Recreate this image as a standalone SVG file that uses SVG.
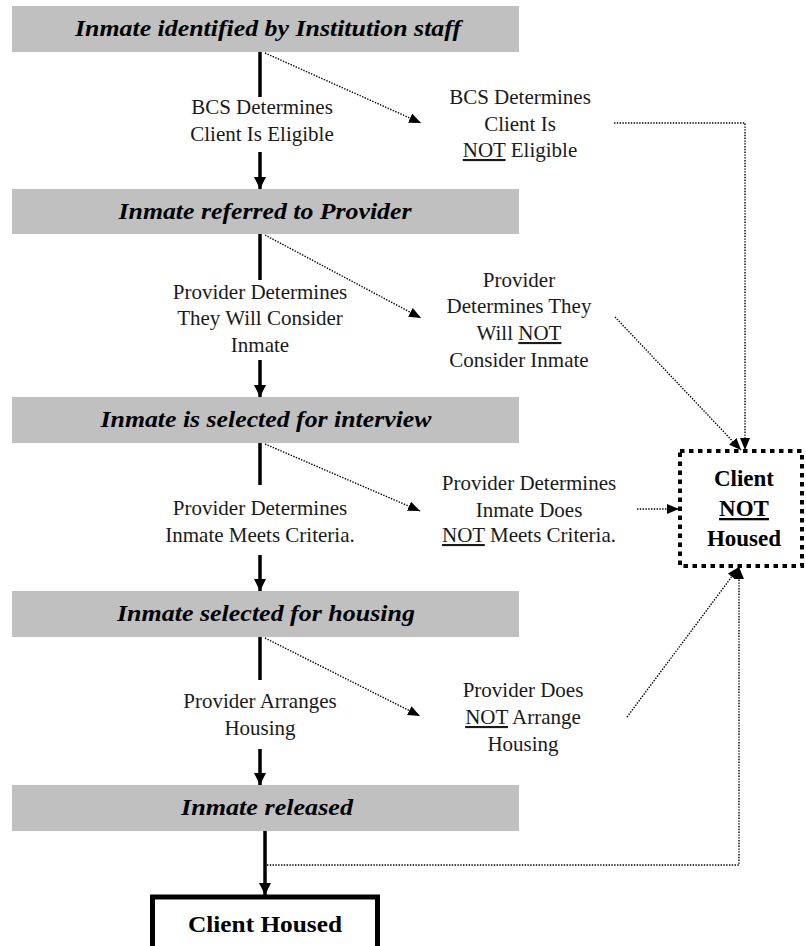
<svg xmlns="http://www.w3.org/2000/svg" width="806" height="946" viewBox="0 0 806 946">
<style>
.bar{fill:#c0c0c0}
.bt{font-family:"Liberation Serif",serif;font-weight:bold;font-style:italic;font-size:24px;fill:#000;text-anchor:middle}
.lb{font-family:"Liberation Serif",serif;font-size:21px;fill:#1a1a1a;text-anchor:middle}
.bx{font-family:"Liberation Serif",serif;font-weight:bold;font-size:23px;fill:#000;text-anchor:middle}
.u{text-decoration:underline}
.main{stroke:#000;stroke-width:3.5;fill:none}
.dot{stroke:#000;stroke-width:1.4;stroke-dasharray:1.4 1.4;fill:none}
</style>
<defs>
<marker id="ah" markerUnits="userSpaceOnUse" markerWidth="12" markerHeight="12" viewBox="0 0 12 12" refX="12" refY="6" orient="auto">
<path d="M0,0 L12,6 L0,12 Z" fill="#000"/>
</marker>
<marker id="ad" markerUnits="userSpaceOnUse" markerWidth="12" markerHeight="10" viewBox="0 0 12 10" refX="12" refY="5" orient="auto">
<path d="M0,0 L12,5 L0,10 Z" fill="#000"/>
</marker>
</defs>
<rect width="806" height="946" fill="#fff"/>

<g id="bar1"><rect class="bar" x="12" y="6" width="507" height="46"/><text class="bt" x="268" y="36" textLength="386" lengthAdjust="spacingAndGlyphs">Inmate identified by Institution staff</text></g>
<g id="bar2"><rect class="bar" x="12" y="189" width="507" height="45"/><text class="bt" x="265" y="219" textLength="293" lengthAdjust="spacingAndGlyphs">Inmate referred to Provider</text></g>
<g id="bar3"><rect class="bar" x="12" y="397" width="507" height="46"/><text class="bt" x="266" y="427" textLength="331" lengthAdjust="spacingAndGlyphs">Inmate is selected for interview</text></g>
<g id="bar4"><rect class="bar" x="12" y="591" width="507" height="46"/><text class="bt" x="266" y="621" textLength="298" lengthAdjust="spacingAndGlyphs">Inmate selected for housing</text></g>
<g id="bar5"><rect class="bar" x="12" y="785" width="507" height="46"/><text class="bt" x="267" y="815" textLength="172" lengthAdjust="spacingAndGlyphs">Inmate released</text></g>

<g id="housed"><rect x="152.5" y="897" width="225" height="60" fill="#fff" stroke="#000" stroke-width="5"/><text class="bx" x="265" y="932" font-size="24" textLength="154" lengthAdjust="spacingAndGlyphs">Client Housed</text></g>

<g id="nothoused"><rect x="680" y="451" width="122" height="115" fill="#fff" stroke="#000" stroke-width="4" stroke-dasharray="4.5 4.5"/>
<text class="bx" x="744" y="486">Client</text>
<text class="bx" x="744" y="516"><tspan class="u">NOT</tspan></text>
<text class="bx" x="744" y="546">Housed</text></g>

<g id="labels">
<text class="lb" x="262" y="114">BCS Determines</text>
<text class="lb" x="262" y="141">Client Is Eligible</text>
<text class="lb" x="260" y="299">Provider Determines</text>
<text class="lb" x="260" y="325">They Will Consider</text>
<text class="lb" x="260" y="352">Inmate</text>
<text class="lb" x="260" y="515">Provider Determines</text>
<text class="lb" x="260" y="542">Inmate Meets Criteria.</text>
<text class="lb" x="260" y="708">Provider Arranges</text>
<text class="lb" x="260" y="735">Housing</text>

<text class="lb" x="520" y="104">BCS Determines</text>
<text class="lb" x="520" y="131">Client Is</text>
<text class="lb" x="520" y="157"><tspan class="u">NOT</tspan> Eligible</text>
<text class="lb" x="519" y="287">Provider</text>
<text class="lb" x="519" y="313">Determines They</text>
<text class="lb" x="519" y="340">Will <tspan class="u">NOT</tspan></text>
<text class="lb" x="519" y="367">Consider Inmate</text>
<text class="lb" x="529" y="490">Provider Determines</text>
<text class="lb" x="529" y="517">Inmate Does</text>
<text class="lb" x="529" y="542"><tspan class="u">NOT</tspan> Meets Criteria.</text>
<text class="lb" x="523" y="697">Provider Does</text>
<text class="lb" x="523" y="724"><tspan class="u">NOT</tspan> Arrange</text>
<text class="lb" x="523" y="751">Housing</text>
</g>

<g id="connectors">
<line class="main" x1="260" y1="52" x2="260" y2="97"/>
<line class="main" x1="260" y1="152" x2="260" y2="189" marker-end="url(#ah)"/>
<line class="main" x1="260" y1="234" x2="260" y2="280"/>
<line class="main" x1="260" y1="360" x2="260" y2="397" marker-end="url(#ah)"/>
<line class="main" x1="260" y1="443" x2="260" y2="485"/>
<line class="main" x1="260" y1="555" x2="260" y2="591" marker-end="url(#ah)"/>
<line class="main" x1="260" y1="637" x2="260" y2="680"/>
<line class="main" x1="260" y1="749" x2="260" y2="785" marker-end="url(#ah)"/>
<line class="main" x1="265" y1="831" x2="265" y2="895" marker-end="url(#ah)"/>

<line class="dot" x1="265" y1="53" x2="421" y2="123" marker-end="url(#ad)"/>
<line class="dot" x1="265" y1="235" x2="421" y2="318" marker-end="url(#ad)"/>
<line class="dot" x1="265" y1="444" x2="420" y2="511" marker-end="url(#ad)"/>
<line class="dot" x1="265" y1="638" x2="420" y2="716" marker-end="url(#ad)"/>

<polyline class="dot" points="614,123 745,123 745,450" marker-end="url(#ad)"/>
<line class="dot" x1="615" y1="317" x2="741" y2="450" marker-end="url(#ad)"/>
<line class="dot" x1="637" y1="509" x2="679" y2="509" marker-end="url(#ad)"/>
<line class="dot" x1="627" y1="717" x2="739" y2="567" marker-end="url(#ad)"/>
<polyline class="dot" points="267,865 739,865 739,567" marker-end="url(#ad)"/>
</g>
</svg>
